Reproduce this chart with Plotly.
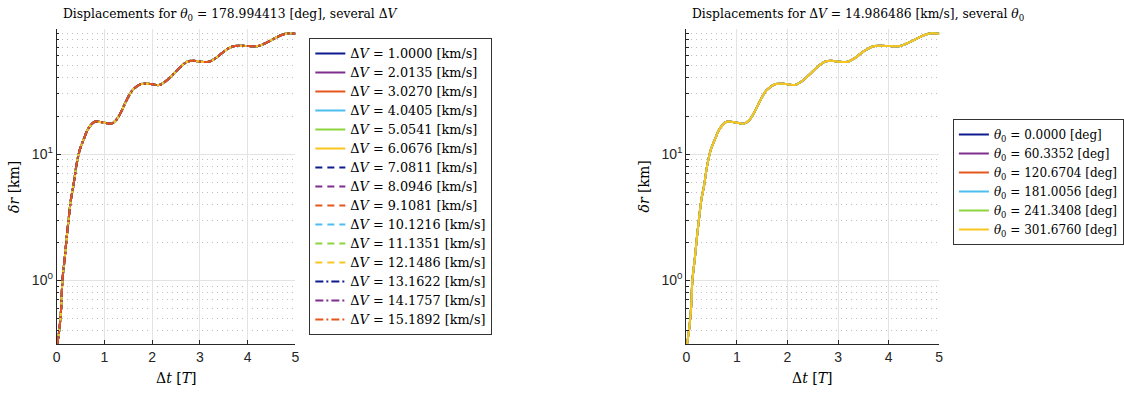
import plotly.graph_objects as go
import numpy as np

# ---- data ----
T_VALUES = [0.013, 0.062, 0.096, 0.12, 0.172, 0.214, 0.256, 0.297, 0.35, 0.415, 0.484,
            0.574, 0.657, 0.796, 0.969, 1.143, 1.247, 1.351, 1.455, 1.59, 1.766, 1.974,
            2.147, 2.286, 2.43, 2.597, 2.735, 2.874, 3.013, 3.186, 3.325, 3.497, 3.67,
            3.845, 4.017, 4.225, 4.364, 4.537, 4.71, 4.848, 5.0]
DR_VALUES = [0.31, 0.43, 0.62, 1.0, 1.54, 2.28, 3.19, 4.33, 5.6, 8.2, 10.8,
             13.3, 15.8, 18.0, 17.8, 17.4, 18.6, 21.6, 26.3, 32.1, 35.8, 35.8,
             35.2, 37.8, 42.5, 49.1, 53.8, 54.8, 53.8, 53.8, 57.3, 64.6, 70.8,
             72.0, 71.6, 71.6, 75.2, 81.3, 87.5, 90.3, 89.6]

DV_VALUES = ["1.0000", "2.0135", "3.0270", "4.0405", "5.0541", "6.0676", "7.0811",
             "8.0946", "9.1081", "10.1216", "11.1351", "12.1486", "13.1622",
             "14.1757", "15.1892"]
THETA_VALUES = ["0.0000", "60.3352", "120.6704", "181.0056", "241.3408", "301.6760"]

COLORS = ["#0d1b8f", "#7e2f8e", "#e4561b", "#4dbeee", "#8ed43e", "#fbc520"]
DASHES = ["solid", "7px,5px", "8px,3px,2px,3px"]

X_TICKS = [0, 1, 2, 3, 4, 5]
Y_TICKS = [1, 10]
Y_TICKTEXT = ["10<sup>0</sup>", "10<sup>1</sup>"]
Y_MINOR = [0.4, 0.5, 0.6, 0.7, 0.8, 0.9, 2, 3, 4, 5, 6, 7, 8, 9,
           20, 30, 40, 50, 60, 70, 80, 90]

W, H = 1124, 393
SERIF = "DejaVu Serif"
SANS = "Liberation Sans"

def px(x):
    return x / W

def py(y):
    return 1 - y / H

def leg(txt, size):
    return f'<span style="font-size:{size}px">{txt}</span>'

fig = go.Figure()

for i, dv in enumerate(DV_VALUES):
    fig.add_trace(go.Scatter(
        x=T_VALUES, y=DR_VALUES, mode="lines", line_shape="spline",
        line=dict(color=COLORS[i % 6], width=2, dash=DASHES[i // 6]),
        name=leg(f"Δ<i>V</i> = {dv} [km/s]", 12.8), xaxis="x", yaxis="y",
        legend="legend"))

for i, th in enumerate(THETA_VALUES):
    fig.add_trace(go.Scatter(
        x=T_VALUES, y=DR_VALUES, mode="lines", line_shape="spline",
        line=dict(color=COLORS[i], width=2),
        name=leg(f"<i>θ</i><sub>0</sub> = {th} [deg]", 12), xaxis="x2", yaxis="y2",
        legend="legend2"))

grid_major = "#e3e3e3"
grid_minor = "#bdbdbd"
axcol = "#262626"

def xaxis_cfg(dom, anchor):
    return dict(domain=dom, anchor=anchor, range=[0, 5], tickvals=X_TICKS,
                ticks="inside", ticklen=4, tickcolor=axcol, showline=True,
                linecolor=axcol, linewidth=1, showgrid=True, gridcolor=grid_major,
                gridwidth=1, zeroline=False, mirror=False, automargin=False,
                tickfont=dict(family=SANS, size=14, color=axcol))

def yaxis_cfg(dom, anchor):
    return dict(domain=dom, anchor=anchor, type="log", automargin=False,
                range=[np.log10(0.313), 1.99], tickvals=Y_TICKS, ticktext=Y_TICKTEXT,
                ticks="inside", ticklen=4, tickcolor=axcol, showline=True,
                linecolor=axcol, linewidth=1, showgrid=True, gridcolor=grid_major,
                zeroline=False, tickfont=dict(family=SANS, size=14, color=axcol),
                minor=dict(tickvals=Y_MINOR, ticks="inside", ticklen=2.5,
                           tickcolor=axcol, showgrid=True, gridcolor=grid_minor,
                           griddash="1px,4px", gridwidth=1))

ydom = [py(344), py(29)]
fig.update_layout(
    width=W, height=H, autosize=False, margin=dict(l=0, r=0, t=0, b=0),
    paper_bgcolor="white", plot_bgcolor="white", showlegend=True,
    xaxis=xaxis_cfg([px(57), px(297)], "y"),
    yaxis=yaxis_cfg(ydom, "x"),
    xaxis2=xaxis_cfg([px(690), px(944.3)], "y2"),
    yaxis2=yaxis_cfg(ydom, "x2"),
    legend=dict(x=px(311), y=py(186.5), xanchor="left", yanchor="middle",
                bgcolor="white", bordercolor="#333333", borderwidth=1,
                font=dict(family=SERIF, size=11.5, color="black"),
                tracegroupgap=0, itemwidth=30),
    legend2=dict(x=px(958), y=py(182), xanchor="left", yanchor="middle",
                 bgcolor="white", bordercolor="#333333", borderwidth=1,
                 font=dict(family=SERIF, size=11.5, color="black"),
                 tracegroupgap=0, itemwidth=30),
)

ann = [
    dict(text="Displacements for <i>θ</i><sub>0</sub> = 178.994413 [deg], several Δ<i>V</i>",
         x=px(61), y=py(15), xanchor="left", yanchor="middle", font_size=12.3),
    dict(text="Displacements for Δ<i>V</i> = 14.986486 [km/s], several <i>θ</i><sub>0</sub>",
         x=px(694), y=py(15), xanchor="left", yanchor="middle", font_size=12.3),
    dict(text="<i>δr</i> [km]", x=px(14), y=py(187), textangle=-90,
         xanchor="center", yanchor="middle", font_size=14),
    dict(text="<i>δr</i> [km]", x=px(647), y=py(187), textangle=-90,
         xanchor="center", yanchor="middle", font_size=14),
    dict(text="Δ<i>t</i> [<i>T</i>]", x=px(177), y=py(378),
         xanchor="center", yanchor="middle", font_size=14),
    dict(text="Δ<i>t</i> [<i>T</i>]", x=px(817), y=py(378),
         xanchor="center", yanchor="middle", font_size=14),
]
for a in ann:
    fs = a.pop("font_size")
    fig.add_annotation(xref="paper", yref="paper", showarrow=False,
                       font=dict(family=SERIF, size=fs, color="black"), **a)

fig.write_html(
    "out.html",
    config={"displayModeBar": False, "responsive": False},
    post_script=("document.documentElement.style.overflow='hidden';"
                 "document.body.style.overflow='hidden';"
                 "document.body.style.margin='0';document.body.style.padding='0';"))
